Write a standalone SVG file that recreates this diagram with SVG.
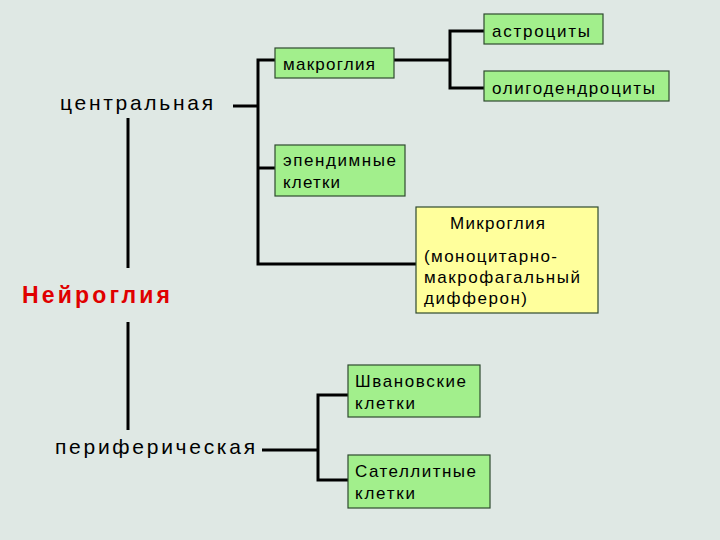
<svg xmlns="http://www.w3.org/2000/svg" width="720" height="540" viewBox="0 0 720 540">
<style>
text{font-family:"Liberation Sans",Arial,sans-serif;font-size:17px;fill:#000}
.g{fill:#a2ef8c;stroke:#2f4a2f;stroke-width:1.2}
.y{fill:#ffff9c;stroke:#2f4a2f;stroke-width:1.2}
.c line,.c polyline{stroke:#000;stroke-width:3;fill:none}
.big{font-size:21px}
</style>
<rect width="720" height="540" fill="#dfe8e4"/>
<g class="c">
<line x1="233" y1="106" x2="258" y2="106"/>
<polyline points="275,60 258,60 258,264 416,264"/>
<line x1="258" y1="168" x2="275" y2="168"/>
<polyline points="394,60 450,60"/>
<polyline points="484,31 450,31 450,88 484,88"/>
<line x1="128" y1="118" x2="128" y2="268"/>
<line x1="128" y1="322" x2="128" y2="430"/>
<line x1="262" y1="450" x2="318" y2="450"/>
<polyline points="348,395 318,395 318,480 348,480"/>
</g>
<g id="central"><text class="big" x="60" y="110" textLength="153" lengthAdjust="spacing">центральная</text></g>
<g id="neuroglia"><text x="22" y="303" textLength="148" lengthAdjust="spacing" style="font-size:23px;font-weight:bold;fill:#e00000">Нейроглия</text></g>
<g id="peripheral"><text class="big" x="55" y="454" textLength="200" lengthAdjust="spacing">периферическая</text></g>
<g id="macro"><rect class="g" x="275" y="48" width="119" height="30"/><text x="283" y="70" textLength="92" lengthAdjust="spacing">макроглия</text></g>
<g id="astro"><rect class="g" x="484" y="14" width="119" height="30"/><text x="492" y="37" textLength="98" lengthAdjust="spacing">астроциты</text></g>
<g id="oligo"><rect class="g" x="484" y="71" width="185" height="30"/><text x="492" y="94" textLength="163" lengthAdjust="spacing">олигодендроциты</text></g>
<g id="epend"><rect class="g" x="275" y="145" width="130" height="51"/><text x="283" y="166" textLength="113" lengthAdjust="spacing">эпендимные</text><text x="283" y="188" textLength="57" lengthAdjust="spacing">клетки</text></g>
<g id="micro"><rect class="y" x="416" y="207" width="182" height="106"/><text x="450" y="229" textLength="95" lengthAdjust="spacing">Микроглия</text><text x="424" y="262" textLength="133" lengthAdjust="spacing">(моноцитарно-</text><text x="424" y="283" textLength="156" lengthAdjust="spacing">макрофагальный</text><text x="424" y="304" textLength="103" lengthAdjust="spacing">дифферон)</text></g>
<g id="schwann"><rect class="g" x="348" y="365" width="132" height="52"/><text x="355" y="387" textLength="111" lengthAdjust="spacing">Швановские</text><text x="355" y="409" textLength="60" lengthAdjust="spacing">клетки</text></g>
<g id="satellite"><rect class="g" x="348" y="455" width="142" height="53"/><text x="355" y="477" textLength="121" lengthAdjust="spacing">Сателлитные</text><text x="355" y="499" textLength="60" lengthAdjust="spacing">клетки</text></g>
</svg>
